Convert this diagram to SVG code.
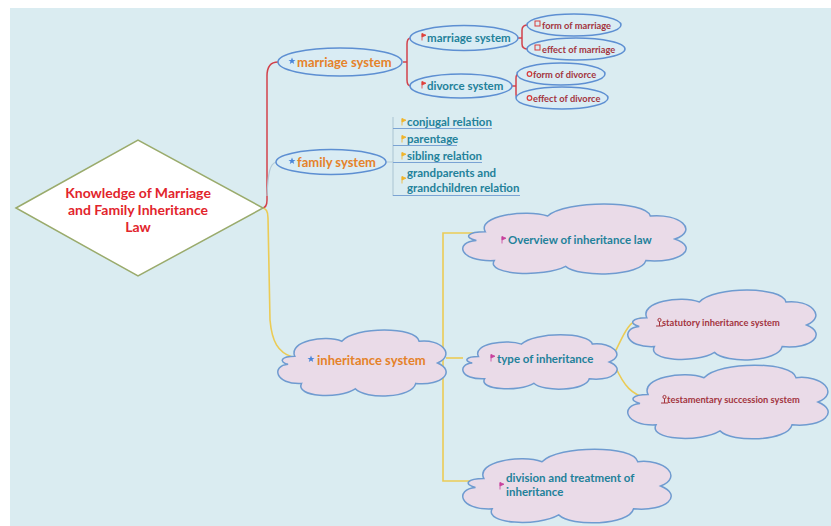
<svg xmlns="http://www.w3.org/2000/svg" xmlns:xlink="http://www.w3.org/1999/xlink" width="831" height="526" viewBox="0 0 831 526">
<style>
text{font-family:Lato,"Liberation Sans",sans-serif;font-weight:bold}
.title{fill:#e2242c;font-size:14px}
.l1{fill:#e5822a;font-size:13px}
.l2{fill:#23819a;font-size:11.5px}
.l3{fill:#a3343e;font-size:9.3px}
.fam{fill:#23819a;font-size:11.5px}
.ell{fill:#d9ecf4;stroke:#5d8fd2;stroke-width:1.5}
.cloud{fill:#eadbe8;stroke:#6f9bd0;stroke-width:1.5;vector-effect:non-scaling-stroke}
.red{fill:none;stroke:#d2414b;stroke-width:1.5}
.yel{fill:none;stroke:#ebcb55;stroke-width:1.6}
.gry{fill:none;stroke:#b3cbd8;stroke-width:1.2}
.ul{stroke:#7aa3d4;stroke-width:1.2}
.star{fill:#4b86d8}
</style>
<defs>
<path id="cloud" class="cloud" d="M10,40 C6,18 28,8 38,18 C46,-4 82,-4 84,18 C97,14 106,38 95,50 C106,62 98,84 82,80 C80,102 52,104 46,88 C36,104 10,100 14,80 C-2,82 -4,54 6,52 C0,48 2,40 10,40 Z"/>
<path id="star" d="M0,-3.6 L1,-1.1 3.5,-1.1 1.5,0.5 2.2,3.1 0,1.5 -2.2,3.1 -1.5,0.5 -3.5,-1.1 -1,-1.1 Z"/>
<path id="flag" d="M0,-3.5 L0,3.5 M0,-3.5 L4,-1.8 L0,0 Z"/>
</defs>
<rect x="10" y="8" width="821" height="518" fill="#daecf1"/>

<g id="connectors">
<path class="red" d="M262,208 C266,208 267,205 267,200 L267,76 C267,66 271,62 278,62"/>
<path class="yel" d="M262,208 C266,208 268,212 268,218 L270,320 C272,342 278,352 292,357"/>
<path class="gry" d="M267,196 C268,172 270,164 276,162"/>
<path class="red" d="M403,62 L407,62 M411,38 C408,38 407,40 407,44 L407,80 C407,84 408,86 411,86"/>
<path class="red" d="M518,38 L522,38 M528,25 C524,25 522,27 522,30 L522,44 C522,47 524,49 528,49"/>
<path class="red" d="M512,86 L516,86 M519,74 C517,74 516,76 516,78 L516,94 C516,97 517,98 519,98"/>
<path class="gry" d="M386,162 L393,162 M393,117 L393,196"/>
<path class="yel" d="M446,358 L463,358"/>
<path class="yel" d="M486,233 L443,233 L443,481 L479,481"/>
<path class="yel" d="M615,352 C624,334 628,322 641,318"/>
<path class="yel" d="M615,366 C624,386 632,395 647,398"/>
</g>

<g id="root">
<polygon points="16,208 138,140 263,208 138,276" fill="#ffffff" stroke="#9aab6c" stroke-width="1.5"/>
<text class="title" x="138" y="198" text-anchor="middle">Knowledge of Marriage</text>
<text class="title" x="138" y="215" text-anchor="middle">and Family Inheritance</text>
<text class="title" x="138" y="232" text-anchor="middle">Law</text>
</g>

<g id="marriage-system">
<ellipse class="ell" cx="340" cy="62" rx="62" ry="14"/>
<use href="#star" class="star" x="292" y="61"/>
<text class="l1" x="297" y="66.5">marriage system</text>
</g>
<g id="family-system">
<ellipse class="ell" cx="331" cy="162" rx="55" ry="12.5"/>
<use href="#star" class="star" x="292" y="161"/>
<text class="l1" x="297" y="166.5">family system</text>
</g>
<g id="inheritance-system">
<use href="#cloud" transform="translate(278,329) scale(1.68,0.68)"/>
<use href="#star" class="star" x="311" y="359"/>
<text class="l1" x="317" y="364.5">inheritance system</text>
</g>

<g id="marriage-system-2">
<ellipse class="ell" cx="464" cy="38" rx="54" ry="12.5"/>
<use href="#flag" x="422" y="37" fill="#e0403a" stroke="#e0403a" stroke-width="0.8"/>
<text class="l2" x="427" y="42">marriage system</text>
</g>
<g id="divorce-system">
<ellipse class="ell" cx="461" cy="86" rx="51" ry="12"/>
<use href="#flag" x="422" y="85" fill="#e0403a" stroke="#e0403a" stroke-width="0.8"/>
<text class="l2" x="427" y="90">divorce system</text>
</g>
<g id="form-of-marriage">
<ellipse class="ell" cx="574" cy="25" rx="47" ry="11"/>
<rect x="535" y="21" width="5" height="5" fill="none" stroke="#d83a3a" stroke-width="1"/>
<text class="l3" x="542" y="28.5">form of marriage</text>
</g>
<g id="effect-of-marriage">
<ellipse class="ell" cx="576" cy="49" rx="49" ry="11"/>
<rect x="535" y="45" width="5" height="5" fill="none" stroke="#d83a3a" stroke-width="1"/>
<text class="l3" x="542" y="52.5">effect of marriage</text>
</g>
<g id="form-of-divorce">
<ellipse class="ell" cx="561" cy="74" rx="44" ry="11"/>
<circle cx="529.5" cy="74" r="2.3" fill="none" stroke="#d83a3a" stroke-width="1.2"/>
<text class="l3" x="533" y="77.5">form of divorce</text>
</g>
<g id="effect-of-divorce">
<ellipse class="ell" cx="562" cy="98" rx="46" ry="11"/>
<circle cx="529.5" cy="98" r="2.3" fill="none" stroke="#d83a3a" stroke-width="1.2"/>
<text class="l3" x="533" y="101.5">effect of divorce</text>
</g>

<g id="conjugal-relation">
<line class="ul" x1="393" y1="128.5" x2="492" y2="128.5"/>
<use href="#flag" x="402" y="122" fill="#f0b428" stroke="#f0b428" stroke-width="0.8"/>
<text class="fam" x="407" y="126">conjugal relation</text>
</g>
<g id="parentage">
<line class="ul" x1="393" y1="145.5" x2="457" y2="145.5"/>
<use href="#flag" x="402" y="139" fill="#f0b428" stroke="#f0b428" stroke-width="0.8"/>
<text class="fam" x="407" y="143">parentage</text>
</g>
<g id="sibling-relation">
<line class="ul" x1="393" y1="162.5" x2="482" y2="162.5"/>
<use href="#flag" x="402" y="156" fill="#f0b428" stroke="#f0b428" stroke-width="0.8"/>
<text class="fam" x="407" y="160">sibling relation</text>
</g>
<g id="grandparents-relation">
<line class="ul" x1="393" y1="195.5" x2="520" y2="195.5"/>
<use href="#flag" x="402" y="180" fill="#f0b428" stroke="#f0b428" stroke-width="0.8"/>
<text class="fam" x="407" y="177">grandparents and</text>
<text class="fam" x="407" y="192">grandchildren relation</text>
</g>

<g id="overview">
<use href="#cloud" transform="translate(463,203) scale(2.23,0.72)"/>
<use href="#flag" x="502" y="240" fill="#c8409c" stroke="#c8409c" stroke-width="0.8"/>
<text class="l2" x="508" y="244">Overview of inheritance law</text>
</g>
<g id="type-of-inheritance">
<use href="#cloud" transform="translate(463,334) scale(1.54,0.56)"/>
<use href="#flag" x="491" y="358" fill="#c8409c" stroke="#c8409c" stroke-width="0.8"/>
<text class="l2" x="497" y="362.5">type of inheritance</text>
</g>
<g id="statutory">
<use href="#cloud" transform="translate(628,289) scale(1.88,0.72)"/>
<path d="M656,326 L663,326 M659.5,326 L659.5,321.5 M659.5,320 m-1.6,0 a1.6,1.6 0 1,0 3.2,0 a1.6,1.6 0 1,0 -3.2,0" fill="none" stroke="#a3343e" stroke-width="1"/>
<text class="l3" x="662" y="326">statutory inheritance system</text>
</g>
<g id="testamentary">
<use href="#cloud" transform="translate(628,364) scale(2.0,0.76)"/>
<path d="M661,403 L668,403 M664.5,403 L664.5,398.5 M664.5,397 m-1.6,0 a1.6,1.6 0 1,0 3.2,0 a1.6,1.6 0 1,0 -3.2,0" fill="none" stroke="#a3343e" stroke-width="1"/>
<text class="l3" x="667" y="403">testamentary succession system</text>
</g>
<g id="division">
<use href="#cloud" transform="translate(463,448) scale(2.08,0.76)"/>
<use href="#flag" x="500" y="486" fill="#c8409c" stroke="#c8409c" stroke-width="0.8"/>
<text class="l2" x="506" y="482">division and treatment of</text>
<text class="l2" x="506" y="496">inheritance</text>
</g>
</svg>
